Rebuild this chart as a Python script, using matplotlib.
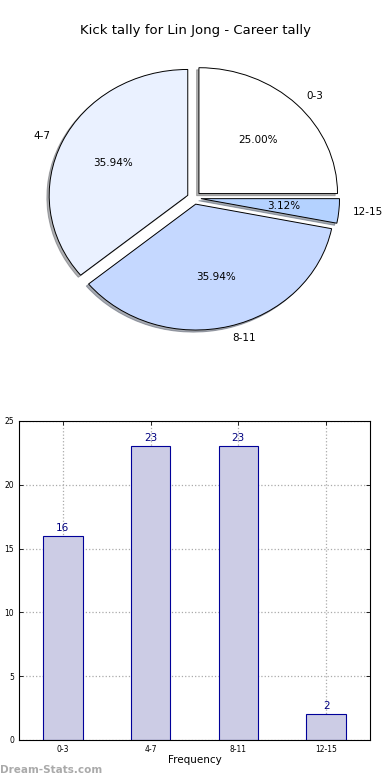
import matplotlib
matplotlib.use("Agg")
import matplotlib.pyplot as plt

categories = ["0-3", "4-7", "8-11", "12-15"]
kicks = [16, 23, 23, 2]
pie_colors = ["#ffffff", "#eaf1ff", "#c5d8ff", "#b4d2ff"]

title = "Kick tally for Lin Jong - Career tally"

fig = plt.figure(figsize=(3.9, 7.8), dpi=100)

# ---- pie (top) ----
ax1 = fig.add_axes([0.064, 0.546, 0.867, 0.397])
wedges, texts, autotexts = ax1.pie(kicks, labels=categories, colors=pie_colors,
                                   explode=[0.05] * 4,
                                   shadow={"ox": -0.012, "oy": -0.012, "shade": 0.6},
                                   autopct="%1.2f%%",
                                   wedgeprops={"edgecolor": "black", "linewidth": 0.7},
                                   textprops={"fontsize": 7.5})
ax1.set_aspect("auto")
ax1.set_xlim(-1.22, 1.22)
ax1.set_ylim(-1.24, 1.22)
fig.text(0.5, 0.961, title, ha="center", va="center", fontsize=9.5)

# ---- bar (bottom) ----
ax2 = fig.add_axes([0.0487, 0.0513, 0.9, 0.409])
x = range(len(categories))
ax2.bar(x, kicks, width=0.45, color="#cccce5", edgecolor="#000099", linewidth=0.8, zorder=2)
for i, v in enumerate(kicks):
    ax2.text(i, v + 0.25, str(v), ha="center", va="bottom", fontsize=7.5, color="#000080")
ax2.set_xlim(-0.5, 3.5)
ax2.set_ylim(0, 25)
ax2.set_xticks(list(x))
ax2.set_xticklabels(categories)
ax2.set_yticks([0, 5, 10, 15, 20, 25])
ax2.tick_params(direction="in", top=True, right=True, labelsize=5.5, length=3, width=0.6)
ax2.grid(True, linestyle=":", color="#aaaaaa", linewidth=0.9, zorder=0)
ax2.set_axisbelow(True)
ax2.set_xlabel("Frequency", fontsize=7.5, labelpad=1)
ax2.set_ylabel("Number of kicks", fontsize=7.5, labelpad=6)
for s in ax2.spines.values():
    s.set_linewidth(0.8)

fig.text(0.0, 0.013, "Dream-Stats.com", ha="left", va="center", fontsize=7.5,
         color="#aaaaaa", fontweight="bold")

fig.savefig("out.png", dpi=100)
